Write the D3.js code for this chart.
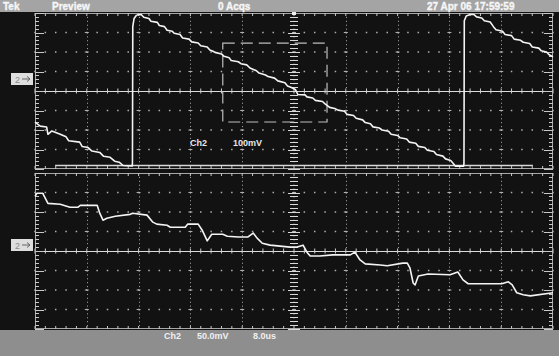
<!DOCTYPE html>
<html><head><meta charset="utf-8">
<script src="https://cdn.jsdelivr.net/npm/d3@7"></script>
<style>html,body{margin:0;padding:0;background:#121212;overflow:hidden}</style>
</head><body>
<svg id="scope" width="559" height="356"></svg>
<script>
// ---- Screen text ----
const headerLabels = ["Tek", "Preview", "0 Acqs", "27 Apr 06 17:59:59"];
const zoomLabels = ["Ch2", "100mV"];
const footerLabels = ["Ch2", "50.0mV", "8.0us"];

// ---- Scales (per division) ----
const timeSpan = [0, 80];          // µs, 10 div x 8.0 µs
const zoomVoltSpan = [-400, 400];  // mV, 8 div x 100 mV
const mainVoltSpan = [-200, 200];  // mV, 8 div x 50 mV
const timePerDiv = 8;

// ---- Zoom window trace: [time µs, mV] ----
const zoomTraceA = [
  [0.0,-160],[0.8,-180],[1.8,-185],[2.0,-222],[2.6,-205],[3.8,-220],[4.8,-235],[5.2,-255],
  [6.9,-262],[7.3,-285],[8.2,-290],[8.8,-308],[10.0,-315],[10.6,-335],[11.6,-340],[12.3,-360],
  [13.0,-365],[13.6,-382],[15.0,-385],[15.05,-370],[15.1,330],[15.3,372],[15.7,390]
];
const zoomTraceB = [
  [15.7,390],[16.4,392],[16.8,378],[17.6,372],[17.9,358],[18.9,352],[19.2,336],[20.0,330],
  [20.4,312],[21.2,306],[21.5,296],[22.4,290],[22.8,272],[23.8,266],[24.2,252],[25.2,246],
  [25.6,232],[26.6,226],[27.0,210],[27.5,204],[27.8,198],[28.8,190],[29.2,178],[30.0,170],
  [30.3,156],[31.4,150],[31.8,140],[32.7,134],[33.2,118],[34.2,104],[34.6,92],[35.6,82],
  [36.0,74],[37.0,66],[37.5,52],[38.6,42],[39.0,26],[39.6,18],[40.2,8],[40.6,-18],
  [41.7,-20],[42.0,-30],[42.9,-36],[43.3,-48],[44.4,-54],[44.8,-66],[45.5,-84],[46.3,-90],
  [46.8,-98],[47.8,-104],[48.2,-120],[49.2,-126],[49.6,-140],[50.6,-148],[51.0,-162],[51.8,-168],
  [52.2,-184],[53.2,-190],[53.6,-200],[54.6,-206],[55.0,-222],[56.0,-228],[56.4,-240],[57.4,-246],
  [57.8,-262],[58.8,-268],[59.2,-284],[60.2,-290],[60.6,-304],[61.6,-310],[62.0,-326],[63.0,-334],
  [63.4,-348],[64.2,-356],[64.6,-372],[64.9,-385],[66.2,-385],[66.25,-370],[66.3,360],[66.6,385],
  [67.2,392],[67.8,392],[68.2,380],[69.0,374],[69.4,360],[70.3,354],[70.8,330],[71.2,314],
  [72.2,306],[72.6,290],[73.6,284],[74.0,266],[75.0,260],[75.4,250],[76.4,244],[76.8,226],
  [77.8,220],[78.2,206],[79.0,200],[79.4,186],[80.0,176]
];
// flat reference level along the bottom of the zoom window
const zoomFloor = [[3.1,-382],[76.9,-382]];
// zoom box outline: [t0, t1, vTop, vBottom]
const zoomBox = [29.0, 45.1, 246, -159];

// ---- Main window trace: [time µs, mV] ----
const mainTrace = [
  [0.0,140],[0.3,148],[1.2,148],[2.0,122],[3.9,120],[5.4,112],[6.6,112],[7.0,117],[9.6,117],
  [10.0,97],[10.5,79],[11.1,84],[12.4,89],[14.7,94],[15.1,97],[17.3,92],[18.2,74],[18.8,69],
  [20.4,66],[20.9,61],[23.2,61],[23.6,69],[25.2,69],[25.8,54],[26.6,26],[27.3,43],[29.0,43],
  [29.7,38],[31.4,36],[32.9,36],[33.7,46],[34.3,33],[35.1,20],[36.3,15],[39.4,10],[40.5,10],
  [41.4,15],[42.0,-3],[42.5,-13],[44.0,-13],[46.0,-10],[48.7,-10],[49.4,-3],[50.2,-23],[51.0,-33],
  [53.3,-36],[54.4,-38],[56.8,-31],[57.5,-31],[57.9,-43],[58.4,-82],[58.7,-87],[59.2,-64],
  [60.7,-59],[64.1,-61],[65.3,-54],[66.1,-74],[66.9,-84],[69.8,-84],[72.1,-84],[73.1,-79],
  [73.7,-87],[74.4,-107],[75.4,-112],[76.5,-115],[80.0,-107]
];

// ---- Drawing ----
const W = 559, H = 356;
const svg = d3.select("#scope");
const FONT = "'Liberation Sans', Arial, sans-serif";
const GRID = "#b0b0b0";

svg.append("rect").attr("width", W).attr("height", H).attr("fill", "#121212");

const x = d3.scaleLinear().domain(timeSpan).range([35, 553]);
const yZoom = d3.scaleLinear().domain(zoomVoltSpan).range([169, 13]);
const yMain = d3.scaleLinear().domain(mainVoltSpan).range([329, 173]);

function graticule(y, span) {
  const g = svg.append("g");
  const [t0, t1] = timeSpan;
  const vmax = span[1];
  const tMajor = d3.range(t0, t1 + 0.01, timePerDiv);
  const tMinor = d3.range(t0, t1 + 0.01, timePerDiv / 5);
  const vMajor = d3.range(-vmax, vmax + 0.01, vmax / 4);
  const vMinor = d3.range(-vmax, vmax + 0.01, vmax / 20);
  const tc = (t0 + t1) / 2;
  const [yb, yt] = y.range();

  // dotted vertical division lines
  g.selectAll(".vdiv").data(tMajor.filter(t => t > t0 && t < t1 && t !== tc)).join("line")
    .attr("x1", d => Math.round(x(d)) + 0.5).attr("x2", d => Math.round(x(d)) + 0.5)
    .attr("y1", yt).attr("y2", yb)
    .attr("stroke", GRID).attr("stroke-width", 1).attr("stroke-dasharray", "1,2.9");
  // dotted horizontal division rows
  vMajor.filter(v => v > -vmax && v < vmax && v !== 0).forEach(v => {
    g.selectAll(null).data(tMinor).join("rect")
      .attr("x", d => x(d) - 0.75).attr("y", y(v) - 0.75)
      .attr("width", 1.5).attr("height", 1.5).attr("fill", GRID);
    g.selectAll(null).data(tMajor.filter(t => t > t0 && t < t1)).join("line")
      .attr("x1", d => x(d) - 2).attr("x2", d => x(d) + 2)
      .attr("y1", y(v)).attr("y2", y(v)).attr("stroke", GRID);
  });
  // centre axes with tick marks
  g.append("line").attr("x1", x(t0)).attr("x2", x(t1))
    .attr("y1", Math.round(y(0)) + 0.5).attr("y2", Math.round(y(0)) + 0.5)
    .attr("stroke", "#dcdcdc").attr("stroke-width", 1.2);
  g.selectAll(null).data(tMinor).join("line")
    .attr("x1", d => x(d)).attr("x2", d => x(d))
    .attr("y1", y(0) - 2.5).attr("y2", y(0) + 2.5).attr("stroke", "#d0d0d0");
  g.append("line").attr("x1", x(tc)).attr("x2", x(tc)).attr("y1", yt).attr("y2", yb)
    .attr("stroke", "#d0d0d0").attr("stroke-dasharray", "1,2.9");
  g.selectAll(null).data(vMinor).join("line")
    .attr("x1", d => x(tc) - (vMajor.includes(d) ? 6 : 4)).attr("x2", d => x(tc) + (vMajor.includes(d) ? 6 : 4))
    .attr("y1", d => Math.round(y(d)) + 0.5).attr("y2", d => Math.round(y(d)) + 0.5)
    .attr("stroke", "#d8d8d8");
  // frame with edge ticks
  g.append("rect").attr("x", x(t0) + 0.5).attr("y", yt + 0.5)
    .attr("width", x(t1) - x(t0) - 1).attr("height", yb - yt - 1)
    .attr("fill", "none").attr("stroke", "#a8a8a8");
  g.selectAll(null).data(vMinor).join("line")
    .attr("x1", x(t0)).attr("x2", d => x(t0) + (vMajor.includes(d) ? 9 : 4))
    .attr("y1", d => Math.round(y(d)) + 0.5).attr("y2", d => Math.round(y(d)) + 0.5)
    .attr("stroke", "#c8c8c8");
  g.selectAll(null).data(vMinor).join("line")
    .attr("x1", x(t1)).attr("x2", d => x(t1) - (vMajor.includes(d) ? 9 : 4))
    .attr("y1", d => Math.round(y(d)) + 0.5).attr("y2", d => Math.round(y(d)) + 0.5)
    .attr("stroke", "#c8c8c8");
  g.selectAll(null).data(tMinor).join("line")
    .attr("x1", d => x(d)).attr("x2", d => x(d))
    .attr("y1", yt).attr("y2", yt + 3).attr("stroke", "#c8c8c8");
  g.selectAll(null).data(tMinor).join("line")
    .attr("x1", d => x(d)).attr("x2", d => x(d))
    .attr("y1", yb).attr("y2", yb - 3).attr("stroke", "#c8c8c8");
  return g;
}

graticule(yZoom, zoomVoltSpan);
graticule(yMain, mainVoltSpan);

// zoom box outline
svg.append("rect")
  .attr("x", x(zoomBox[0])).attr("y", yZoom(zoomBox[2]))
  .attr("width", x(zoomBox[1]) - x(zoomBox[0])).attr("height", yZoom(zoomBox[3]) - yZoom(zoomBox[2]))
  .attr("fill", "none").attr("stroke", "#bdbdbd").attr("stroke-width", 1.2)
  .attr("stroke-dasharray", "12,6");

// traces
const lineZ = d3.line().x(d => x(d[0])).y(d => yZoom(d[1]));
const lineM = d3.line().x(d => x(d[0])).y(d => yMain(d[1]));
const traceStyle = s => s.attr("fill", "none").attr("stroke", "#f4f4f4")
  .attr("stroke-width", 1.6).attr("stroke-linejoin", "round");
svg.append("path").datum(zoomFloor).attr("d", lineZ).attr("fill", "none")
  .attr("stroke", "#d8d8d8").attr("stroke-width", 1.3);
svg.append("path").datum(zoomTraceA).attr("d", lineZ).call(traceStyle);
svg.append("path").datum(zoomTraceB).attr("d", lineZ).call(traceStyle);
svg.append("path").datum(mainTrace).attr("d", lineM).call(traceStyle);

// channel ground markers: "2" with a right-pointing arrow
function groundMarker(yPos) {
  const g = svg.append("g").attr("transform", `translate(11,${Math.round(yPos) - 6})`);
  g.append("rect").attr("width", 22).attr("height", 12).attr("fill", "#dedede");
  g.append("text").attr("x", 4).attr("y", 9.5).text("2").attr("font-family", FONT)
    .attr("font-size", 9).attr("fill", "#8a8a8a");
  g.append("path").attr("d", "M11,6H19M16,3.5L19,6L16,8.5")
    .attr("fill", "none").attr("stroke", "#666").attr("stroke-width", 1);
}
groundMarker(yZoom(60));
groundMarker(yMain(16));

// zoom window readout
svg.append("g").selectAll("text").data(zoomLabels).join("text")
  .attr("x", (d, i) => [190, 233][i]).attr("y", 146)
  .text(d => d).attr("font-family", FONT).attr("font-size", 9).attr("font-weight", "bold")
  .attr("fill", "#e8e8e8");

// header bar
svg.append("rect").attr("x", 0).attr("y", 0).attr("width", W).attr("height", 12).attr("fill", "#a4a4a4");
svg.append("g").selectAll("text").data(headerLabels).join("text")
  .attr("x", (d, i) => [3, 52, 218, 427][i]).attr("y", 10)
  .text(d => d).attr("font-family", FONT).attr("font-size", 10).attr("font-weight", "bold")
  .attr("fill", "#f6f6f6").attr("stroke", "#f6f6f6").attr("stroke-width", 0.35);

// footer bar
svg.append("rect").attr("x", 0).attr("y", 330).attr("width", W).attr("height", H - 330).attr("fill", "#8e8e8e");
svg.append("g").selectAll("text").data(footerLabels).join("text")
  .attr("x", (d, i) => [164, 197, 253][i]).attr("y", 339)
  .text(d => d).attr("font-family", FONT).attr("font-size", 9).attr("font-weight", "bold")
  .attr("fill", "#f0f0f0");

// trigger position mark
svg.append("rect").attr("x", x(40) - 2).attr("y", 12).attr("width", 4).attr("height", 3).attr("fill", "#eee");
</script>
</body></html>
